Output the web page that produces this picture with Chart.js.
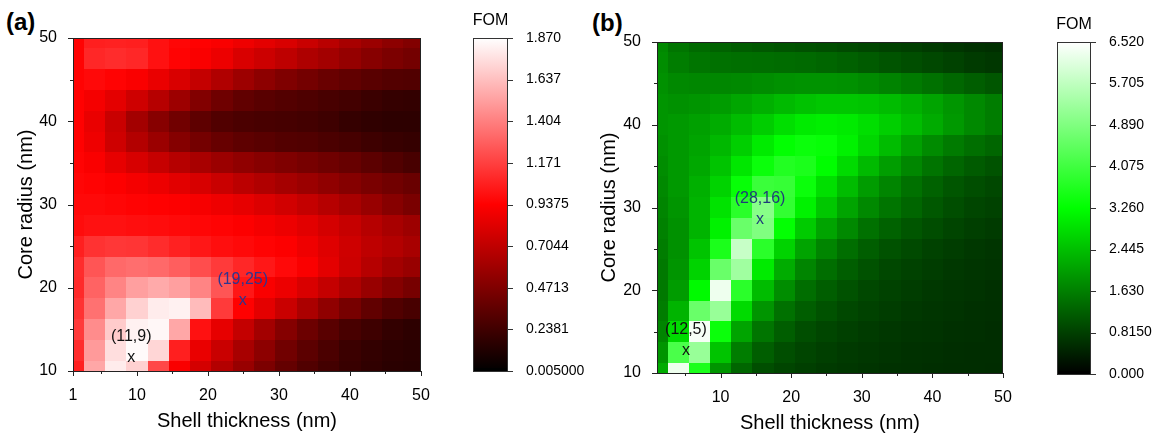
<!DOCTYPE html>
<html>
<head>
<meta charset="utf-8">
<script src="https://cdn.jsdelivr.net/npm/chart.js@4.4.1/dist/chart.umd.min.js"></script>
<style>
  html, body { margin: 0; padding: 0; background: #fff; width: 1153px; height: 437px; overflow: hidden; }
  canvas { position: absolute; top: 0; }
  .panel { position: absolute; font-family: "Liberation Sans", Arial, sans-serif; font-weight: bold; font-size: 24px; line-height: 24px; }
</style>
</head>
<body>
<div class="panel" style="left:6px; top:10px;">(a)</div>
<div class="panel" style="left:592px; top:11px;">(b)</div>
<canvas id="heatA" width="440" height="437" style="left:0px"></canvas>
<canvas id="barA" width="150" height="437" style="left:440px"></canvas>
<canvas id="heatB" width="445" height="437" style="left:580px"></canvas>
<canvas id="barB" width="128" height="437" style="left:1025px"></canvas>
<script>
// grid of the maps: shell thickness columns, core radius rows (top row first)
const shellCols = [1, 4, 7, 10, 13, 16, 19, 22, 25, 28, 31, 34, 37, 40, 43, 46, 49];
const coreRows = [50, 47.5, 45, 42.5, 40, 37.5, 35, 32.5, 30, 27.5, 25, 22.5, 20, 17.5, 15, 12.5, 10];

// FOM
const fomA = [
  [0.95, 1.05, 1.06, 1.05, 1.00, 0.96, 0.94, 0.92, 0.88, 0.84, 0.80, 0.74, 0.68, 0.62, 0.57, 0.52, 0.48],
  [0.95, 1.08, 1.10, 1.08, 1.00, 0.95, 0.92, 0.87, 0.80, 0.75, 0.70, 0.64, 0.60, 0.55, 0.50, 0.46, 0.43],
  [0.95, 0.97, 0.95, 0.92, 0.86, 0.80, 0.72, 0.65, 0.58, 0.52, 0.47, 0.43, 0.39, 0.36, 0.33, 0.31, 0.30],
  [0.94, 0.90, 0.84, 0.76, 0.67, 0.58, 0.48, 0.41, 0.36, 0.33, 0.31, 0.29, 0.27, 0.25, 0.22, 0.20, 0.19],
  [0.94, 0.86, 0.74, 0.60, 0.50, 0.42, 0.35, 0.30, 0.28, 0.27, 0.26, 0.25, 0.23, 0.20, 0.18, 0.17, 0.17],
  [0.94, 0.88, 0.76, 0.66, 0.57, 0.49, 0.43, 0.38, 0.35, 0.33, 0.31, 0.30, 0.28, 0.26, 0.23, 0.21, 0.20],
  [0.95, 0.92, 0.85, 0.79, 0.73, 0.67, 0.62, 0.57, 0.53, 0.50, 0.47, 0.44, 0.41, 0.38, 0.34, 0.30, 0.27],
  [0.96, 0.95, 0.93, 0.90, 0.87, 0.83, 0.79, 0.74, 0.69, 0.65, 0.61, 0.57, 0.53, 0.49, 0.45, 0.42, 0.39],
  [0.97, 0.97, 0.96, 0.95, 0.94, 0.93, 0.91, 0.88, 0.85, 0.81, 0.77, 0.72, 0.67, 0.62, 0.56, 0.50, 0.45],
  [0.98, 1.00, 1.00, 0.99, 0.98, 0.97, 0.96, 0.95, 0.93, 0.90, 0.87, 0.83, 0.78, 0.73, 0.67, 0.62, 0.58],
  [1.05, 1.12, 1.14, 1.13, 1.10, 1.06, 1.02, 0.99, 0.97, 0.95, 0.93, 0.88, 0.82, 0.76, 0.70, 0.66, 0.62],
  [1.10, 1.25, 1.32, 1.34, 1.32, 1.28, 1.22, 1.15, 1.08, 1.02, 0.97, 0.92, 0.84, 0.75, 0.67, 0.60, 0.56],
  [1.09, 1.30, 1.42, 1.52, 1.56, 1.52, 1.42, 1.25, 1.02, 0.92, 0.87, 0.80, 0.72, 0.64, 0.56, 0.49, 0.44],
  [1.12, 1.35, 1.55, 1.70, 1.80, 1.82, 1.62, 1.15, 0.94, 0.84, 0.74, 0.63, 0.53, 0.44, 0.36, 0.30, 0.27],
  [1.15, 1.45, 1.68, 1.82, 1.84, 1.55, 1.00, 0.85, 0.72, 0.60, 0.49, 0.40, 0.33, 0.27, 0.23, 0.19, 0.17],
  [1.10, 1.50, 1.75, 1.85, 1.72, 1.05, 0.86, 0.74, 0.62, 0.52, 0.42, 0.34, 0.28, 0.22, 0.19, 0.17, 0.16],
  [1.05, 1.55, 1.80, 1.70, 1.20, 0.92, 0.78, 0.66, 0.56, 0.46, 0.37, 0.30, 0.25, 0.21, 0.18, 0.16, 0.15]
];

// FOM
const fomB = [
  [1.75, 1.50, 1.35, 1.25, 1.18, 1.12, 1.08, 1.04, 1.00, 0.95, 0.90, 0.85, 0.80, 0.74, 0.68, 0.63, 0.60],
  [1.80, 1.60, 1.50, 1.45, 1.42, 1.40, 1.38, 1.35, 1.30, 1.24, 1.16, 1.08, 1.00, 0.92, 0.84, 0.76, 0.70],
  [1.85, 1.75, 1.72, 1.72, 1.75, 1.80, 1.85, 1.88, 1.88, 1.85, 1.78, 1.68, 1.56, 1.44, 1.32, 1.20, 1.10],
  [1.90, 1.85, 1.90, 2.00, 2.12, 2.25, 2.38, 2.48, 2.55, 2.55, 2.50, 2.40, 2.26, 2.10, 1.92, 1.75, 1.60],
  [1.90, 1.95, 2.05, 2.20, 2.40, 2.62, 2.85, 3.00, 3.05, 3.00, 2.85, 2.65, 2.42, 2.18, 1.95, 1.75, 1.60],
  [1.85, 1.95, 2.10, 2.35, 2.65, 3.00, 3.28, 3.40, 3.35, 3.10, 2.75, 2.40, 2.05, 1.78, 1.57, 1.42, 1.30],
  [1.80, 1.95, 2.15, 2.50, 2.95, 3.40, 3.70, 3.60, 3.25, 2.80, 2.38, 2.02, 1.72, 1.48, 1.30, 1.16, 1.06],
  [1.75, 1.95, 2.25, 2.70, 3.35, 4.00, 3.95, 3.40, 2.85, 2.40, 2.00, 1.70, 1.45, 1.25, 1.10, 1.00, 0.92],
  [1.70, 1.90, 2.30, 2.90, 3.80, 5.00, 3.90, 3.10, 2.55, 2.10, 1.75, 1.50, 1.30, 1.12, 1.00, 0.90, 0.84],
  [1.65, 1.85, 2.30, 3.10, 4.60, 4.90, 3.30, 2.60, 2.10, 1.75, 1.45, 1.25, 1.10, 0.98, 0.88, 0.80, 0.75],
  [1.60, 1.85, 2.50, 3.60, 5.80, 3.80, 2.70, 2.10, 1.70, 1.40, 1.20, 1.05, 0.95, 0.85, 0.78, 0.72, 0.68],
  [1.55, 1.90, 2.70, 4.60, 5.30, 3.00, 2.20, 1.70, 1.40, 1.20, 1.05, 0.92, 0.85, 0.78, 0.72, 0.68, 0.65],
  [1.55, 2.00, 3.20, 6.30, 3.80, 2.40, 1.80, 1.40, 1.20, 1.05, 0.92, 0.85, 0.78, 0.72, 0.68, 0.65, 0.62],
  [1.60, 2.30, 4.60, 5.20, 2.80, 1.90, 1.45, 1.20, 1.05, 0.92, 0.85, 0.78, 0.72, 0.68, 0.65, 0.62, 0.60],
  [1.70, 2.80, 6.40, 3.40, 2.10, 1.50, 1.20, 1.00, 0.90, 0.82, 0.75, 0.70, 0.67, 0.65, 0.62, 0.60, 0.58],
  [1.90, 4.20, 5.20, 2.50, 1.60, 1.20, 1.00, 0.88, 0.80, 0.74, 0.70, 0.66, 0.63, 0.61, 0.59, 0.58, 0.57],
  [2.20, 6.30, 3.60, 1.90, 1.30, 1.00, 0.88, 0.80, 0.74, 0.70, 0.66, 0.63, 0.61, 0.59, 0.58, 0.57, 0.56]
];

// axis ticks
const xTicksA = [1, 5, 10, 15, 20, 25, 30, 35, 40, 45, 50];
const xTicksB = [5, 10, 15, 20, 25, 30, 35, 40, 45, 50];
const yTicks = [10, 15, 20, 25, 30, 35, 40, 45, 50];

// colour bar ticks
const cbValuesA = [0.005, 0.2381, 0.4713, 0.7044, 0.9375, 1.171, 1.404, 1.637, 1.870];
const cbLabelsA = ['0.005000', '0.2381', '0.4713', '0.7044', '0.9375', '1.171', '1.404', '1.637', '1.870'];
const cbValuesB = [0, 0.815, 1.63, 2.445, 3.26, 4.075, 4.89, 5.705, 6.52];
const cbLabelsB = ['0.000', '0.8150', '1.630', '2.445', '3.260', '4.075', '4.890', '5.705', '6.520'];

// marked optimum points
const notesA = [
  { x: 9.2, y: 11.6, text: '(11,9)', color: '#111' },
  { x: 24.9, y: 18.4, text: '(19,25)', color: '#2f3590' }
];
const notesB = [
  { x: 5.1, y: 12.7, text: '(12,5)', color: '#111' },
  { x: 15.6, y: 28.5, text: '(28,16)', color: '#1f3b7a' }
];

const FONT = '"Liberation Sans", Arial, Helvetica, sans-serif';
Chart.defaults.font.family = FONT;
Chart.defaults.color = '#000';

// black -> pure colour -> white
function corDoMapa(v, min, max, canal) {
  let t = (v - min) / (max - min);
  t = Math.max(0, Math.min(1, t));
  const alto = t <= 0.5 ? Math.round(510 * t) : 255;
  const baixo = t <= 0.5 ? 0 : Math.round(510 * (t - 0.5));
  return canal === 'r' ? `rgb(${alto},${baixo},${baixo})` : `rgb(${baixo},${alto},${baixo})`;
}

const heatPlugin = {
  id: 'heat',
  beforeDatasetsDraw(chart, args, opts) {
    const { ctx, chartArea: a, scales: { x, y } } = chart;
    ctx.save();
    ctx.beginPath();
    ctx.rect(a.left, a.top, a.width, a.height);
    ctx.clip();
    const nc = shellCols.length, nr = coreRows.length;
    for (let i = 0; i < nr; i++) {
      const yTop = i === 0 ? y.max : (coreRows[i - 1] + coreRows[i]) / 2;
      const yBot = i === nr - 1 ? y.min : (coreRows[i] + coreRows[i + 1]) / 2;
      const py0 = Math.round(y.getPixelForValue(yTop));
      const py1 = Math.round(y.getPixelForValue(yBot));
      for (let j = 0; j < nc; j++) {
        const xL = j === 0 ? x.min : (shellCols[j - 1] + shellCols[j]) / 2;
        const xR = j === nc - 1 ? x.max : (shellCols[j] + shellCols[j + 1]) / 2;
        const px0 = Math.round(x.getPixelForValue(xL));
        const px1 = Math.round(x.getPixelForValue(xR));
        ctx.fillStyle = corDoMapa(opts.grid[i][j], opts.min, opts.max, opts.canal);
        ctx.fillRect(px0, py0, px1 - px0, py1 - py0);
      }
    }
    ctx.restore();
  },
  afterDatasetsDraw(chart, args, opts) {
    const { ctx, chartArea: a, scales: { x, y } } = chart;
    ctx.save();
    // frame
    ctx.strokeStyle = '#222';
    ctx.lineWidth = 1;
    ctx.strokeRect(a.left + 0.5, a.top + 0.5, a.width - 1, a.height);
    // outward ticks, longer on labelled ones
    ctx.beginPath();
    x.ticks.forEach(t => {
      const px = Math.round(x.getPixelForValue(t.value)) + 0.5;
      const len = (t.value % 10 === 0 || t.value === 1) ? 5 : 3;
      ctx.moveTo(px, a.bottom);
      ctx.lineTo(px, a.bottom + len);
    });
    y.ticks.forEach(t => {
      const py = Math.round(y.getPixelForValue(t.value)) + 0.5;
      const len = t.value % 10 === 0 ? 5 : 3;
      ctx.moveTo(a.left, py);
      ctx.lineTo(a.left - len, py);
    });
    ctx.stroke();
    // notes
    ctx.font = '16px ' + FONT;
    ctx.textAlign = 'center';
    ctx.textBaseline = 'middle';
    opts.notes.forEach(n => {
      const px = x.getPixelForValue(n.x);
      const py = y.getPixelForValue(n.y);
      ctx.fillStyle = n.color;
      ctx.fillText('x', px, py);
      ctx.fillText(n.text, px, py - 21);
    });
    ctx.restore();
  }
};

const barPlugin = {
  id: 'colorbar',
  beforeDatasetsDraw(chart, args, opts) {
    const { ctx, chartArea: a, scales: { y } } = chart;
    const yMin = y.getPixelForValue(y.min);
    const yMax = y.getPixelForValue(y.max);
    const grad = ctx.createLinearGradient(0, yMin, 0, yMax);
    grad.addColorStop(0, corDoMapa(0, 0, 1, opts.canal));
    grad.addColorStop(0.5, corDoMapa(0.5, 0, 1, opts.canal));
    grad.addColorStop(1, corDoMapa(1, 0, 1, opts.canal));
    ctx.save();
    ctx.fillStyle = grad;
    ctx.fillRect(a.left, a.top, a.width, a.height);
    ctx.fillStyle = '#000';
    ctx.fillRect(a.left, a.bottom - 3, a.width, 3);
    ctx.strokeStyle = '#333';
    ctx.lineWidth = 1;
    ctx.strokeRect(a.left + 0.5, a.top + 0.5, a.width - 1, a.height);
    ctx.beginPath();
    y.ticks.forEach(t => {
      const py = Math.round(y.getPixelForValue(t.value)) + 0.5;
      ctx.moveTo(a.right, py);
      ctx.lineTo(a.right + 5, py);
    });
    ctx.stroke();
    ctx.fillStyle = '#000';
    ctx.font = '16px ' + FONT;
    ctx.textAlign = 'center';
    ctx.textBaseline = 'middle';
    ctx.fillText('FOM', (a.left + a.right) / 2, a.top - 17);
    ctx.restore();
  }
};

function criarMapa(id, grid, canal, min, max, xTicks, notes, lay) {
  return new Chart(document.getElementById(id), {
    type: 'scatter',
    data: { datasets: [] },
    plugins: [heatPlugin],
    options: {
      responsive: false,
      animation: false,
      devicePixelRatio: 1,
      layout: { padding: { left: 0, top: lay.top, right: lay.right, bottom: 0 } },
      plugins: {
        legend: { display: false },
        tooltip: { enabled: false },
        heat: { grid: grid, canal: canal, min: min, max: max, notes: notes }
      },
      scales: {
        x: {
          type: 'linear', min: 1, max: 50,
          afterBuildTicks: s => { s.ticks = xTicks.map(v => ({ value: v })); },
          afterFit: s => { s.height = lay.xh; },
          grid: { display: false },
          border: { display: false },
          ticks: {
            padding: 7, font: { size: 16 }, maxRotation: 0, autoSkip: false,
            callback: v => (v % 10 === 0 || v === 1) ? String(v) : ''
          },
          title: { display: true, text: 'Shell thickness (nm)', font: { size: 20 }, padding: { top: 0, bottom: lay.xtp } }
        },
        y: {
          type: 'linear', min: 10, max: 50,
          afterBuildTicks: s => { s.ticks = yTicks.map(v => ({ value: v })); },
          afterFit: s => { s.width = lay.yw; },
          grid: { display: false },
          border: { display: false },
          ticks: {
            padding: 8, font: { size: 16 }, autoSkip: false,
            callback: v => v % 10 === 0 ? String(v) : ''
          },
          title: { display: true, text: 'Core radius (nm)', font: { size: 20 }, padding: { top: lay.ytp, bottom: 0 } }
        }
      }
    }
  });
}

function criarBarra(id, canal, values, labels, lay) {
  return new Chart(document.getElementById(id), {
    type: 'scatter',
    data: { datasets: [] },
    plugins: [barPlugin],
    options: {
      responsive: false,
      animation: false,
      devicePixelRatio: 1,
      layout: { padding: { left: lay.left, top: lay.top, right: 0, bottom: lay.bottom } },
      plugins: {
        legend: { display: false },
        tooltip: { enabled: false },
        colorbar: { canal: canal }
      },
      scales: {
        x: { type: 'linear', min: 0, max: 1, display: false },
        y: {
          type: 'linear', position: 'right',
          min: values[0], max: values[values.length - 1],
          afterBuildTicks: s => { s.ticks = values.map(v => ({ value: v })); },
          afterFit: s => { s.width = lay.w; },
          grid: { display: false },
          border: { display: false },
          ticks: {
            padding: 10, font: { size: 14 }, autoSkip: false,
            callback: (v, i) => labels[i]
          }
        }
      }
    }
  });
}

criarMapa('heatA', fomA, 'r', 0.005, 1.870, xTicksA, notesA, { top: 38, right: 19, xh: 66, yw: 73, xtp: 4, ytp: 14 });
criarBarra('barA', 'r', cbValuesA, cbLabelsA, { left: 33, top: 38, bottom: 66, w: 82 });
criarMapa('heatB', fomB, 'g', 0, 6.52, xTicksB, notesB, { top: 42, right: 22, xh: 64, yw: 77, xtp: 2, ytp: 17 });
criarBarra('barB', 'g', cbValuesB, cbLabelsB, { left: 32, top: 42, bottom: 63, w: 62 });
</script>
</body>
</html>
